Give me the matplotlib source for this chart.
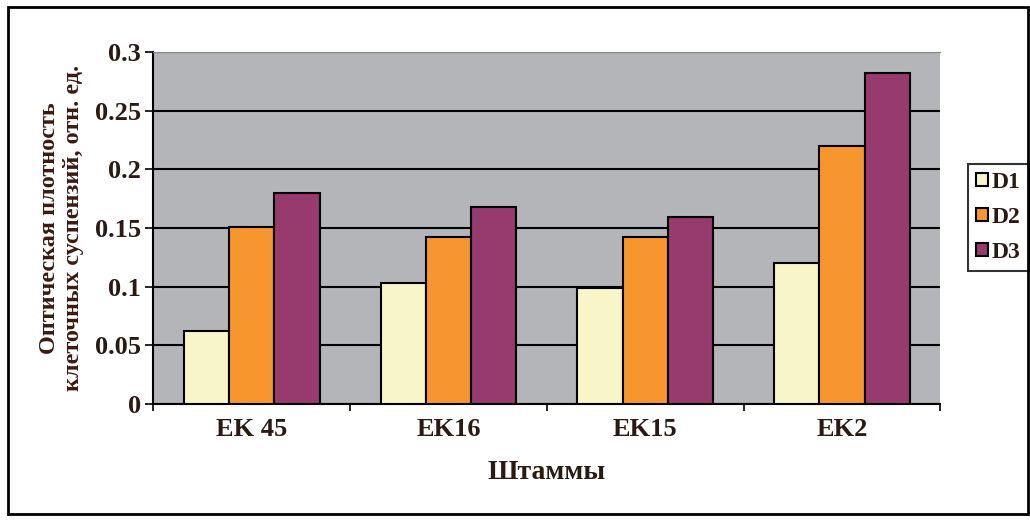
import matplotlib.pyplot as plt
import numpy as np

strains = ['EK 45', 'EK16', 'EK15', 'EK2']
d1 = [0.062, 0.103, 0.099, 0.120]
d2 = [0.151, 0.142, 0.142, 0.220]
d3 = [0.180, 0.168, 0.159, 0.282]
series_names = ['D1', 'D2', 'D3']
colors = ['#F8F5C8', '#F7962E', '#973A6E']

plt.rcParams['font.family'] = ['Liberation Serif', 'DejaVu Serif']
txt = '#2b1a12'

fig = plt.figure(figsize=(10.3, 5.2), dpi=100)
ax = fig.add_axes([0.149, 0.223, 0.764, 0.677])
ax.set_facecolor('#B3B5B8')

x = np.arange(len(strains))
w = 0.23
for i, vals in enumerate([d1, d2, d3]):
    ax.bar(x + (i - 1) * w, vals, w, color=colors[i], edgecolor='black',
           linewidth=1.5, label=series_names[i], zorder=3)

ax.set_xlim(-0.5, len(strains) - 0.5)
ax.set_ylim(0, 0.3)
ax.set_yticks([0, 0.05, 0.1, 0.15, 0.2, 0.25, 0.3])
ax.set_yticklabels(['0', '0.05', '0.1', '0.15', '0.2', '0.25', '0.3'],
                   fontsize=19, fontweight='bold', color=txt)
ax.yaxis.grid(True, color='black', linewidth=1.5, zorder=1)
ax.set_axisbelow(True)

ax.set_xticks(x)
ax.set_xticklabels(strains, fontsize=19, fontweight='bold', color=txt)
ax.set_xticks(np.arange(-0.5, len(strains), 1), minor=True)
ax.tick_params(axis='x', which='major', length=0, pad=10)
ax.tick_params(axis='x', which='minor', length=5, width=1.2, direction='out')
ax.tick_params(axis='y', length=6, width=1.2, direction='out', pad=3)

ax.spines['right'].set_visible(False)
ax.spines['top'].set_color('#888888')
ax.spines['left'].set_linewidth(1.5)
ax.spines['bottom'].set_linewidth(1.5)

ax.set_xlabel('Штаммы', fontsize=20, fontweight='bold', color=txt, labelpad=14)
ax.set_ylabel('Оптическая плотность\nклеточных суспензий, отн. ед.', fontsize=17.5,
              fontweight='bold', color='#3b1a10', labelpad=8, linespacing=1.15)

leg = ax.legend(loc='center left', bbox_to_anchor=(1.035, 0.53), frameon=True,
                fancybox=False, edgecolor='black', fontsize=17, handlelength=0.5,
                handleheight=0.5, handletextpad=0.15, labelspacing=0.6,
                borderpad=0.35, borderaxespad=0)
leg.get_frame().set_linewidth(1.5)
for t in leg.get_texts():
    t.set_fontweight('bold')
    t.set_color(txt)

# outer frame around the whole figure
fig.patches.append(plt.Rectangle((0.008, 0.012), 0.99, 0.974, transform=fig.transFigure,
                                 fill=False, edgecolor='black', linewidth=2))

plt.savefig('out.png', dpi=100)
plt.close()
